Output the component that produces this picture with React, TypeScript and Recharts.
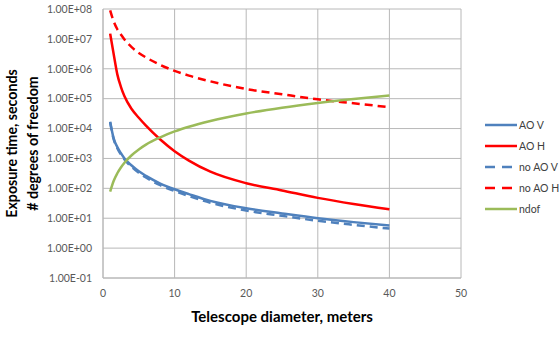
import { CartesianGrid, Legend, Line, LineChart, XAxis, YAxis } from "recharts";

const diameters = [1, 1.5, 2, 2.5, 3, 4, 5, 6, 8, 10, 12, 15, 20, 25, 30, 35, 40];
const aoV = [1.7e4, 4.6e3, 2.4e3, 1.5e3, 1.0e3, 580, 370, 260, 145, 93, 64, 38, 21.5, 14.5, 10, 7.4, 5.7];
const aoH = [1.5e7, 3e6, 6.5e5, 2.5e5, 1.2e5, 4.5e4, 2.3e4, 1.25e4, 4.3e3, 1.75e3, 850, 360, 148, 85, 48, 30, 20];
const noAoV = [1.6e4, 4.3e3, 2.2e3, 1.35e3, 920, 520, 330, 230, 127, 81, 55, 33, 18, 12, 8.2, 6, 4.5];
const noAoH = [9e7, 3.8e7, 2.1e7, 1.4e7, 9.5e6, 5.3e6, 3.4e6, 2.4e6, 1.35e6, 8.5e5, 5.9e5, 3.8e5, 2.1e5, 1.4e5, 9.5e4, 7e4, 5.2e4];
const ndof = [78, 180, 320, 500, 720, 1.28e3, 2e3, 2.9e3, 5.1e3, 8e3, 1.15e4, 1.8e4, 3.2e4, 5e4, 7.2e4, 9.8e4, 1.28e5];

const xTicks = [0, 10, 20, 30, 40, 50];
const yTicks = [1e-1, 1, 1e1, 1e2, 1e3, 1e4, 1e5, 1e6, 1e7, 1e8];

const data = diameters.map((d, i) => ({
  d,
  aoV: aoV[i],
  aoH: aoH[i],
  noAoV: noAoV[i],
  noAoH: noAoH[i],
  ndof: ndof[i],
}));

const BLUE = "#4f81bd";
const RED = "#ff0000";
const GREEN = "#9bbb59";
const FONT = "Lato, 'Open Sans', sans-serif";

const series = [
  { key: "aoV", name: "AO V", color: BLUE, dash: undefined },
  { key: "aoH", name: "AO H", color: RED, dash: undefined },
  { key: "noAoV", name: "no AO V", color: BLUE, dash: "8 5" },
  { key: "noAoH", name: "no AO H", color: RED, dash: "8 5" },
  { key: "ndof", name: "ndof", color: GREEN, dash: undefined },
];

function sci(v: number) {
  const [m, e] = v.toExponential(2).toUpperCase().split("E");
  const n = Number(e);
  return `${m}E${n < 0 ? "-" : "+"}${String(Math.abs(n)).padStart(2, "0")}`;
}

function LegendBox() {
  return (
    <div style={{ fontFamily: FONT, fontSize: 10.5, color: "#404040", whiteSpace: "nowrap" }}>
      {series.map((s) => (
        <div key={s.key} style={{ display: "flex", alignItems: "center", height: 21, paddingLeft: 24 }}>
          <svg width={32} height={6} style={{ flexShrink: 0 }}>
            <line x1={0} y1={3} x2={32} y2={3} stroke={s.color} strokeWidth={2.5} strokeDasharray={s.dash ? "10 7" : undefined} />
          </svg>
          <span style={{ marginLeft: 2 }}>{s.name}</span>
        </div>
      ))}
    </div>
  );
}

export default function App() {
  return (
    <div style={{ position: "absolute", left: 0, top: 0, background: "#fff" }}>
      <LineChart width={559} height={339} data={data} margin={{ top: 9, right: 0, bottom: 0, left: 0 }}>
        <CartesianGrid stroke="#b8b8b8" strokeWidth={1} />
        <XAxis
          dataKey="d"
          type="number"
          domain={[0, 50]}
          ticks={xTicks}
          height={61}
          tickSize={0}
          tickMargin={12}
          tickLine={false}
          axisLine={{ stroke: "#b8b8b8" }}
          tick={{ fill: "#595959", fontSize: 10.5, fontFamily: FONT }}
          label={({ viewBox }: any) => (
            <text
              x={viewBox.x + viewBox.width / 2}
              y={viewBox.y + 44}
              textAnchor="middle"
              fontFamily={FONT}
              fontWeight="bold"
              fontSize={15}
              fill="#000"
            >
              Telescope diameter, meters
            </text>
          )}
        />
        <YAxis
          scale="log"
          domain={[0.1, 1e8]}
          ticks={yTicks}
          allowDataOverflow
          width={103}
          tickSize={0}
          tickMargin={11}
          tickLine={false}
          axisLine={{ stroke: "#b8b8b8" }}
          tickFormatter={sci}
          tick={{ fill: "#595959", fontSize: 10.5, fontFamily: FONT }}
          label={({ viewBox }: any) => {
            const cy = viewBox.y + viewBox.height / 2;
            return (
              <g fontFamily={FONT} fontWeight="bold" fontSize={14.2} fill="#000">
                <text x={17} y={cy} textAnchor="middle" transform={`rotate(-90, 17, ${cy})`}>
                  Exposure time, seconds
                </text>
                <text x={38} y={cy} textAnchor="middle" transform={`rotate(-90, 38, ${cy})`}>
                  # degrees of freedom
                </text>
              </g>
            );
          }}
        />
        <Legend
          layout="vertical"
          align="right"
          verticalAlign="middle"
          width={98}
          wrapperStyle={{ top: 114, right: 0 }}
          content={() => <LegendBox />}
        />
        {series.map((s) => (
          <Line
            key={s.key}
            type="monotone"
            dataKey={s.key}
            name={s.name}
            stroke={s.color}
            strokeWidth={2.5}
            strokeDasharray={s.dash}
            dot={false}
            activeDot={false}
            isAnimationActive={false}
          />
        ))}
      </LineChart>
    </div>
  );
}
